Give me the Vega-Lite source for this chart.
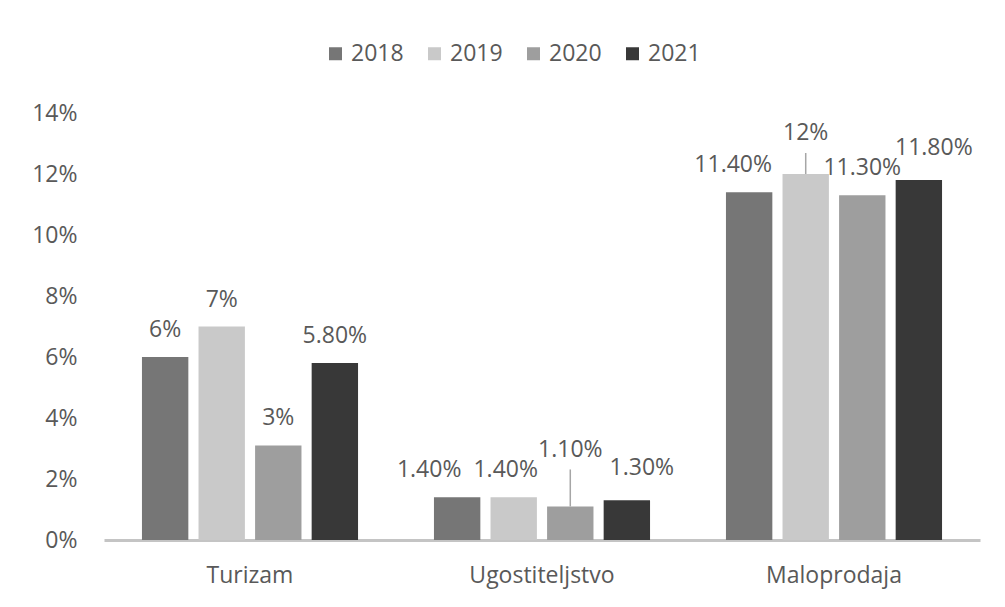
{
  "$schema": "https://vega.github.io/schema/vega-lite/v6.json",
  "autosize": {"type": "none"},
  "width": 876,
  "height": 427,
  "padding": {"left": 104, "top": 113, "right": 25, "bottom": 67},
  "background": "white",
  "config": {
    "view": {"stroke": null},
    "font": "Open Sans",
    "text": {"font": "Open Sans"}
  },
  "data": {
    "values": [
      {"cat": "Turizam", "year": "2018", "value": 6, "label": "6%"},
      {"cat": "Turizam", "year": "2019", "value": 7, "label": "7%"},
      {"cat": "Turizam", "year": "2020", "value": 3.1, "label": "3%"},
      {"cat": "Turizam", "year": "2021", "value": 5.8, "label": "5.80%"},
      {"cat": "Ugostiteljstvo", "year": "2018", "value": 1.4, "label": "1.40%"},
      {"cat": "Ugostiteljstvo", "year": "2019", "value": 1.4, "label": "1.40%"},
      {"cat": "Ugostiteljstvo", "year": "2020", "value": 1.1, "label": "1.10%"},
      {"cat": "Ugostiteljstvo", "year": "2021", "value": 1.3, "label": "1.30%"},
      {"cat": "Maloprodaja", "year": "2018", "value": 11.4, "label": "11.40%"},
      {"cat": "Maloprodaja", "year": "2019", "value": 12, "label": "12%"},
      {"cat": "Maloprodaja", "year": "2020", "value": 11.3, "label": "11.30%"},
      {"cat": "Maloprodaja", "year": "2021", "value": 11.8, "label": "11.80%"}
    ]
  },
  "encoding": {
    "x": {
      "field": "cat",
      "type": "nominal",
      "sort": ["Turizam", "Ugostiteljstvo", "Maloprodaja"],
      "scale": {"paddingInner": 0.26, "paddingOuter": 0.13},
      "axis": {
        "title": null,
        "labelAngle": 0,
        "ticks": false,
        "domainColor": "#c4c4c4",
        "domainWidth": 3,
        "labelPadding": 24,
        "labelFontSize": 23,
        "labelColor": "#595959",
        "labelFont": "Open Sans"
      }
    },
    "xOffset": {
      "field": "year",
      "type": "nominal",
      "scale": {"paddingInner": 0.18, "paddingOuter": 0}
    },
    "y": {
      "field": "value",
      "type": "quantitative",
      "scale": {"domain": [0, 14], "nice": false},
      "axis": {
        "title": null,
        "values": [0, 2, 4, 6, 8, 10, 12, 14],
        "labelExpr": "datum.value + '%'",
        "domain": false,
        "ticks": false,
        "grid": false,
        "labelPadding": 27,
        "labelFontSize": 23,
        "labelColor": "#595959",
        "labelFont": "Open Sans"
      }
    }
  },
  "layer": [
    {
      "mark": {"type": "bar"},
      "encoding": {
        "color": {
          "field": "year",
          "type": "nominal",
          "scale": {"domain": ["2018", "2019", "2020", "2021"], "range": ["#767676", "#c9c9c9", "#9e9e9e", "#383838"]},
          "legend": {
            "title": null,
            "orient": "none",
            "direction": "horizontal",
            "legendX": 220,
            "legendY": -71,
            "symbolType": "square",
            "symbolSize": 169,
            "symbolStrokeWidth": 0,
            "labelFontSize": 23,
            "labelColor": "#595959",
            "labelFont": "Open Sans",
            "labelOffset": 4,
            "columnPadding": 19,
            "padding": 0
          }
        }
      }
    },
    {
      "transform": [{"filter": "datum.cat == 'Ugostiteljstvo' && datum.year == '2020'"}],
      "mark": {"type": "rule", "color": "#a6a6a6", "strokeWidth": 1.5, "y2Offset": -37},
      "encoding": {
        "y2": {"field": "value"}
      }
    },
    {
      "transform": [{"filter": "datum.cat == 'Maloprodaja' && datum.year == '2019'"}],
      "mark": {"type": "rule", "color": "#a6a6a6", "strokeWidth": 1.5, "y2Offset": -21},
      "encoding": {
        "y2": {"field": "value"}
      }
    },
    {
      "transform": [{"filter": "!((datum.cat == 'Ugostiteljstvo') || (datum.cat == 'Maloprodaja' && datum.year != '2020'))"}],
      "mark": {"type": "text", "baseline": "alphabetic", "dy": -20, "fontSize": 23, "color": "#595959", "font": "Open Sans"},
      "encoding": {"text": {"field": "label"}}
    },
    {
      "transform": [{"filter": "datum.cat == 'Ugostiteljstvo' && datum.year == '2018'"}],
      "mark": {"type": "text", "baseline": "alphabetic", "dy": -20, "dx": -28, "fontSize": 23, "color": "#595959", "font": "Open Sans"},
      "encoding": {"text": {"field": "label"}}
    },
    {
      "transform": [{"filter": "datum.cat == 'Ugostiteljstvo' && datum.year == '2019'"}],
      "mark": {"type": "text", "baseline": "alphabetic", "dy": -20, "dx": -8, "fontSize": 23, "color": "#595959", "font": "Open Sans"},
      "encoding": {"text": {"field": "label"}}
    },
    {
      "transform": [{"filter": "datum.cat == 'Ugostiteljstvo' && datum.year == '2020'"}],
      "mark": {"type": "text", "baseline": "alphabetic", "dy": -49, "fontSize": 23, "color": "#595959", "font": "Open Sans"},
      "encoding": {"text": {"field": "label"}}
    },
    {
      "transform": [{"filter": "datum.year == '2021' && datum.cat != 'Turizam'"}],
      "mark": {"type": "text", "baseline": "alphabetic", "dy": -25, "dx": 15, "fontSize": 23, "color": "#595959", "font": "Open Sans"},
      "encoding": {"text": {"field": "label"}}
    },
    {
      "transform": [{"filter": "datum.cat == 'Maloprodaja' && datum.year == '2018'"}],
      "mark": {"type": "text", "baseline": "alphabetic", "dy": -20, "dx": -16, "fontSize": 23, "color": "#595959", "font": "Open Sans"},
      "encoding": {"text": {"field": "label"}}
    },
    {
      "transform": [{"filter": "datum.cat == 'Maloprodaja' && datum.year == '2019'"}],
      "mark": {"type": "text", "baseline": "alphabetic", "dy": -34, "fontSize": 23, "color": "#595959", "font": "Open Sans"},
      "encoding": {"text": {"field": "label"}}
    }
  ]
}
